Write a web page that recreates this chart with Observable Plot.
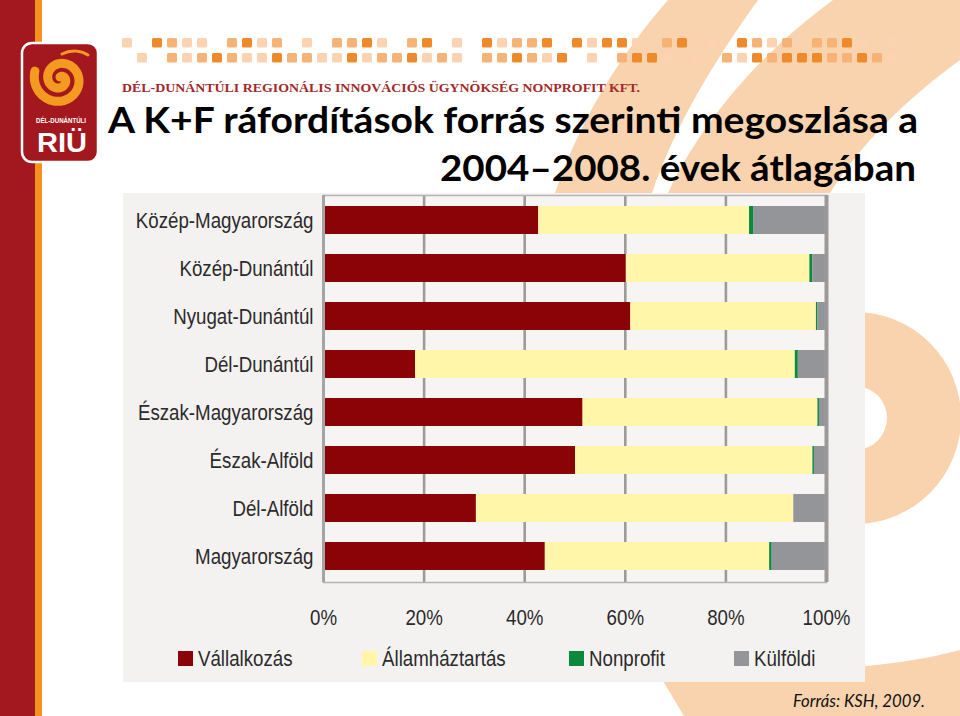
<!DOCTYPE html>
<html><head><meta charset="utf-8">
<script src="https://cdn.jsdelivr.net/npm/d3@7"></script>
<script src="https://cdn.jsdelivr.net/npm/@observablehq/plot@0.6"></script>
<style>
body{margin:0;background:#fff}
#page{position:relative;width:960px;height:716px;overflow:hidden;background:#fff}
#deco{position:absolute;left:0;top:0}
#panel{position:absolute;left:123px;top:193px;width:742px;height:489px;background:#f4f2f0}
#chart{position:absolute;left:123px;top:193px}
#legend{position:absolute;left:0;top:0;width:960px;height:0}
.li{position:absolute;top:648px;height:22px;white-space:nowrap}
.sw{position:absolute;left:0;top:3px;width:15px;height:15px}
.lt{position:absolute;left:20px;top:0;font:22px/22px 'Liberation Sans',Arial,sans-serif;color:#2b2b2b;transform:scaleX(0.85);transform-origin:0 50%}
</style></head><body>
<div id="page">
<svg id="deco" width="960" height="716"></svg>
<div id="panel"></div>
<div id="chart"></div>
<div id="legend"></div>
</div>
<script>
// ---- data ----
const regions = ["Közép-Magyarország","Közép-Dunántúl","Nyugat-Dunántúl","Dél-Dunántúl","Észak-Magyarország","Észak-Alföld","Dél-Alföld","Magyarország"];
const vallalkozas    = [42.8, 60.2, 61.1, 18.3, 51.6, 50.1, 30.4, 44.1];
const allamhaztartas = [41.9, 36.5, 36.9, 75.5, 46.7, 47.2, 63.1, 44.6];
const nonprofit      = [0.9, 0.6, 0.3, 0.6, 0.3, 0.3, 0.0, 0.5];
const kulfoldi       = [14.4, 2.7, 1.7, 5.6, 1.4, 2.4, 6.5, 10.8];
const seriesNames = ["Vállalkozás","Államháztartás","Nonprofit","Külföldi"];
const seriesColors = ["#8a0306","#fff6a9","#0b8a3e","#949598"];
const xTicks = [0,20,40,60,80,100];
const titleLines = ["A K+F ráfordítások forrás szerinti megoszlása a","2004–2008. évek átlagában"];
const orgName = "DÉL-DUNÁNTÚLI REGIONÁLIS INNOVÁCIÓS ÜGYNÖKSÉG NONPROFIT KFT.";
const sourceNote = "Forrás: KSH, 2009.";
const logoSmall = "DÉL-DUNÁNTÚLI";
const logoBig = "RIÜ";

// ---- layout (not data) ----
const legendLefts = [178, 362, 569, 734];
const textScale = 0.85;

const seriesValues = [vallalkozas, allamhaztartas, nonprofit, kulfoldi];
const data = regions.flatMap((r, i) => seriesNames.map((s, j) => ({region: r, series: s, value: seriesValues[j][i]})));

// ---- decoration ----
const deco = d3.select("#deco");
const peach = "#f9d3ad";
deco.append("path").attr("fill", peach)
  .attr("d", "M668,0 L758,0 C715,60 675,125 652,193 L555,193 C580,120 620,55 668,0 Z");
deco.append("path").attr("fill", peach)
  .attr("d", "M833,0 L960,0 L960,60 C905,100 860,145 830,193 L668,193 C705,115 765,50 833,0 Z");
deco.append("path").attr("fill", peach).attr("transform", "translate(855,418)")
  .attr("d", d3.arc()({innerRadius: 32, outerRadius: 106, startAngle: 0, endAngle: 2 * Math.PI}));
deco.append("path").attr("fill", peach)
  .attr("d", "M660,676 C790,674 895,668 960,650 L960,716 L684,716 Z");
deco.append("rect").attr("x", 0).attr("y", 0).attr("width", 35).attr("height", 716).attr("fill", "#a3171f");
deco.append("rect").attr("x", 35).attr("y", 0).attr("width", 7).attr("height", 716).attr("fill", "#f5921e");
// logo
deco.append("rect").attr("x", 22).attr("y", 43).attr("width", 76).attr("height", 119).attr("rx", 10)
  .attr("fill", "#a3171f").attr("stroke", "#fff").attr("stroke-width", 2.5);
const spiralPts = d3.range(0, 3.6 * Math.PI, 0.1).map(t => [t, 2 + t * 2.15]);
deco.append("path").attr("transform", "translate(60,79)")
  .attr("d", d3.lineRadial().curve(d3.curveCatmullRom)(spiralPts))
  .attr("fill", "none").attr("stroke", "#f49a21").attr("stroke-width", 9).attr("stroke-linecap", "round");
deco.append("path").attr("d", "M62,54 C72,49 82,51 88,55").attr("fill", "none")
  .attr("stroke", "#f49a21").attr("stroke-width", 3).attr("stroke-linecap", "round");
deco.append("text").text(logoSmall).attr("x", 36).attr("y", 123).attr("textLength", 50).attr("lengthAdjust", "spacingAndGlyphs")
  .attr("font-family", "'Liberation Sans',Arial,sans-serif").attr("font-weight", 700).attr("font-size", 8).attr("fill", "#fff");
deco.append("text").text(logoBig).attr("x", 37).attr("y", 152).attr("textLength", 50).attr("lengthAdjust", "spacingAndGlyphs")
  .attr("font-family", "'Liberation Sans',Arial,sans-serif").attr("font-weight", 700).attr("font-size", 27).attr("fill", "#fff");
// squares band
const sqColors = {l: "#fbd3b0", m: "#f7b276", d: "#ef8a2a"};
const sqRows = [
  {x0: 122, y: 38, p: "l.dmll.mdlm.l.mmdl.md.l.dlmmd.dlddl.md.l.dmlm.mmdl.l"},
  {x0: 137, y: 53, p: "l.mlmdmlldmmlldlmmdlml.mmdmld.l.mddl.l.mldmdddmmdml"}
];
sqRows.forEach(row => {
  [...row.p].forEach((c, k) => {
    if (c === ".") return;
    deco.append("rect").attr("x", row.x0 + k * 15).attr("y", row.y).attr("width", 10).attr("height", 9.5)
      .attr("rx", 1.5).attr("fill", sqColors[c]);
  });
});
deco.append("text").text(orgName).attr("x", 122).attr("y", 92).attr("textLength", 518).attr("lengthAdjust", "spacingAndGlyphs")
  .attr("font-family", "'Liberation Serif',serif").attr("font-weight", 700).attr("font-size", 13).attr("fill", "#a32a2a");
deco.append("text").text(titleLines[0]).attr("x", 108).attr("y", 133).attr("textLength", 810).attr("lengthAdjust", "spacingAndGlyphs")
  .attr("font-family", "Lato,'Open Sans',sans-serif").attr("font-weight", 700).attr("font-size", 37).attr("fill", "#000");
deco.append("text").text(titleLines[1]).attr("x", 440).attr("y", 181).attr("textLength", 476).attr("lengthAdjust", "spacingAndGlyphs")
  .attr("font-family", "Lato,'Open Sans',sans-serif").attr("font-weight", 700).attr("font-size", 37).attr("fill", "#000");
deco.append("text").text(sourceNote).attr("x", 793).attr("y", 707).attr("textLength", 132).attr("lengthAdjust", "spacingAndGlyphs")
  .attr("font-family", "Lato,'Open Sans',sans-serif").attr("font-style", "italic").attr("font-size", 18).attr("fill", "#111");

// ---- chart ----
const chart = Plot.plot({
  width: 742, height: 450,
  marginLeft: 200, marginRight: 39, marginTop: 2, marginBottom: 61,
  style: {background: "transparent", fontFamily: "'Liberation Sans',Arial,sans-serif", color: "#2b2b2b"},
  x: {domain: [0, 100]},
  y: {domain: regions, paddingInner: 0.415, paddingOuter: 0.21},
  color: {domain: seriesNames, range: seriesColors},
  marks: [
    Plot.frame({fill: "#f7f5f3", stroke: null}),
    Plot.ruleX(xTicks.slice(1, -1), {stroke: "#9b9b9b", strokeWidth: 2.6}),
    Plot.barX(data, {x: "value", y: "region", fill: "series", order: seriesNames}),
    Plot.frame({stroke: "#b4b4b4", strokeWidth: 1.5}),
    Plot.ruleX([0], {stroke: "#a4a4a4", strokeWidth: 3}),
    Plot.ruleX([100], {stroke: "#9a9a9a", strokeWidth: 4}),
    Plot.axisY({tickSize: 0, tickPadding: 10, label: null, fontSize: 22}),
    Plot.axisX({ticks: xTicks, tickSize: 0, tickPadding: 27, label: null, fontSize: 22, tickFormat: d => d + "%"})
  ]
});
d3.select(chart).selectAll("text").each(function () {
  const t = this.getAttribute("transform");
  if (t) this.setAttribute("transform", t + ` scale(${textScale},1)`);
  else {
    const x = +this.getAttribute("x") || 0, y = +this.getAttribute("y") || 0;
    this.removeAttribute("x"); this.removeAttribute("y");
    this.setAttribute("transform", `translate(${x},${y}) scale(${textScale},1)`);
  }
});
document.getElementById("chart").appendChild(chart);

// ---- legend ----
const legend = d3.select("#legend");
seriesNames.forEach((s, i) => {
  const item = legend.append("div").attr("class", "li").style("left", legendLefts[i] + "px");
  item.append("div").attr("class", "sw").style("background", seriesColors[i]);
  item.append("div").attr("class", "lt").text(s);
});
</script>
</body></html>
